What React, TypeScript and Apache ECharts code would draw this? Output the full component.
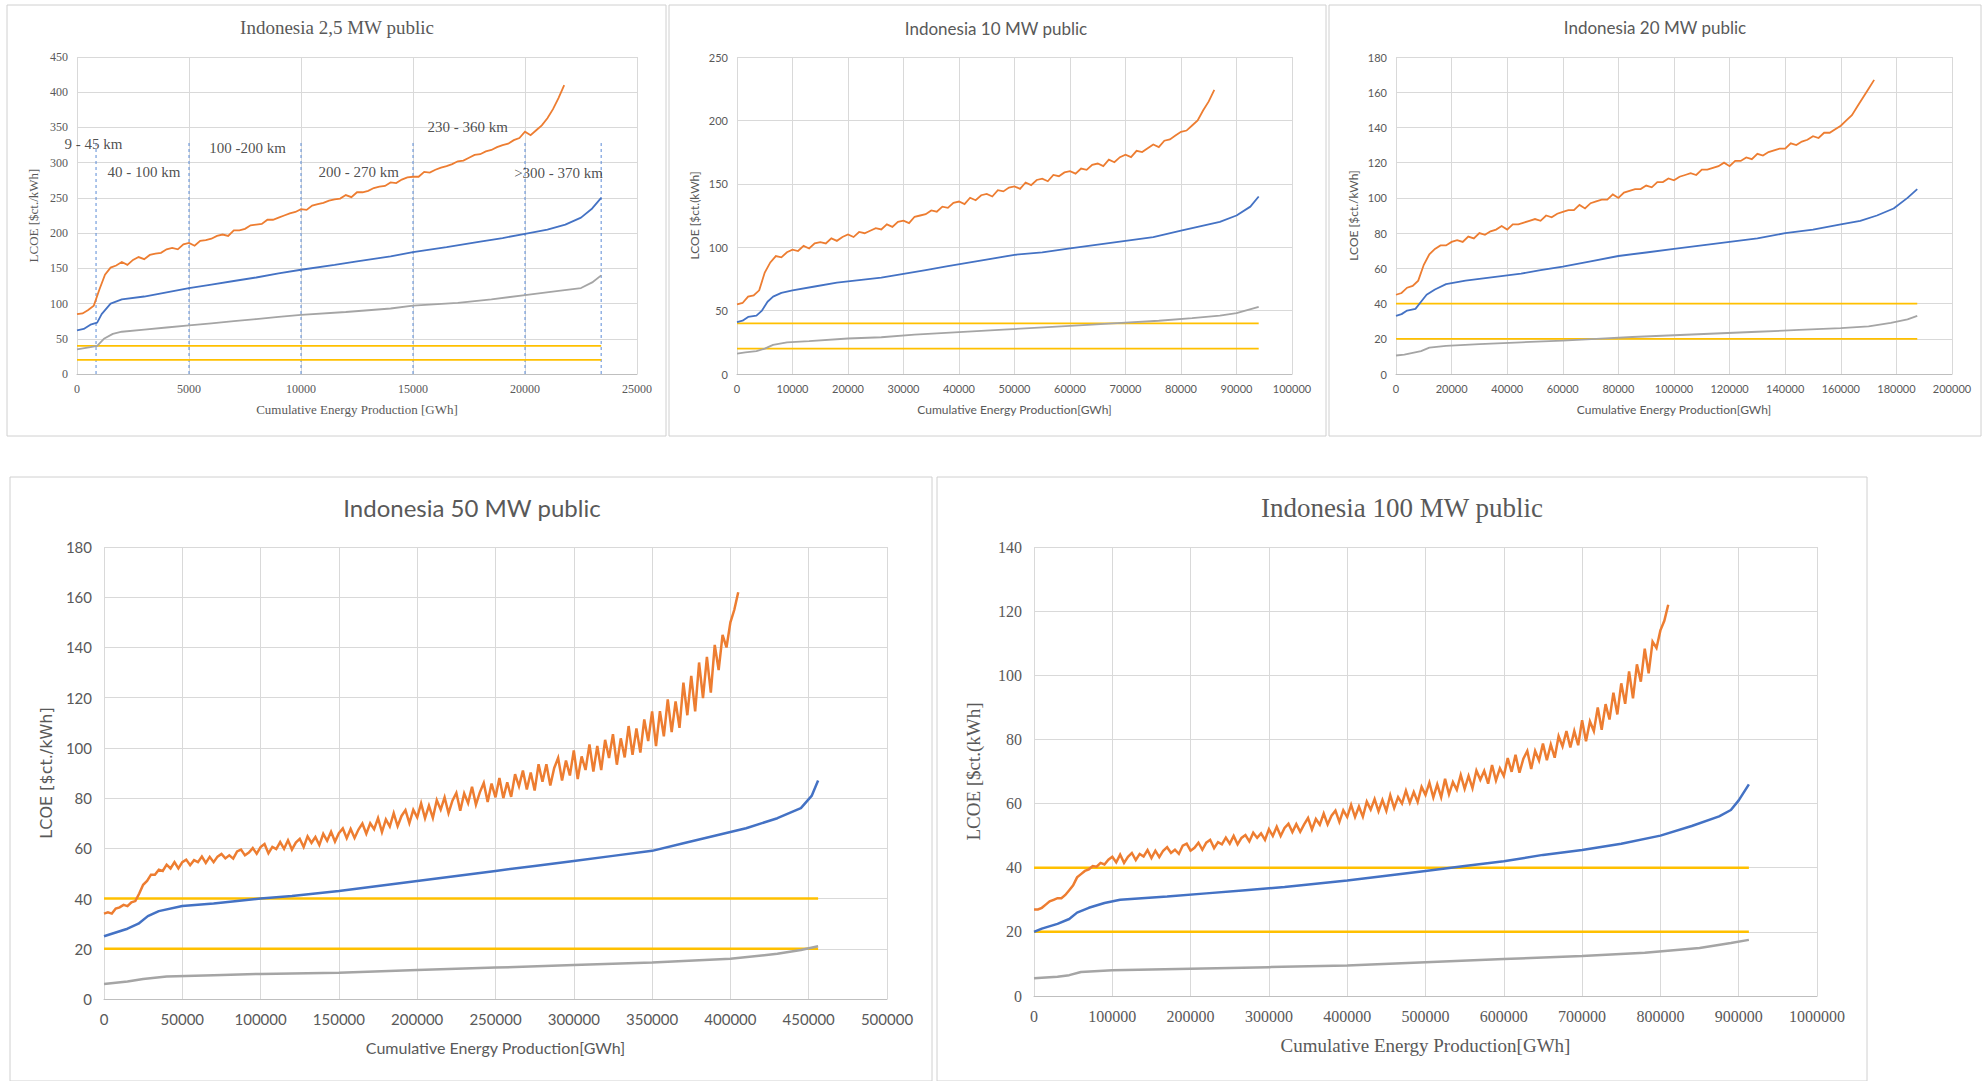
import React, { useEffect, useRef } from "react";
import * as echarts from "echarts";

const ORANGE = "#ED7D31";
const BLUE = "#4472C4";
const GRAY = "#A5A5A5";
const YELLOW = "#FFC000";
const GRID = "#D9D9D9";
const TXT = "#595959";
const SERIF = "'Liberation Serif', 'DejaVu Serif', serif";
const SANS = "Lato, 'Open Sans', sans-serif";

const thresholds = [40, 20];

// ---------- Panel 1: 2,5 MW ----------
const p1Title = "Indonesia 2,5 MW public";
const p1OrangeStep = 250;
const p1Orange = [85, 86, 91, 97, 120, 141, 151, 154, 159, 155, 162, 166, 163, 169, 171, 172, 177, 179, 177, 184, 186, 182, 189, 190, 192, 196, 198, 196, 204, 204, 206, 211, 212, 213, 219, 219, 222, 225, 228, 230, 234, 233, 239, 241, 243, 246, 248, 249, 254, 251, 258, 258, 260, 264, 266, 267, 272, 271, 276, 279, 280, 280, 287, 286, 290, 293, 295, 298, 302, 303, 307, 311, 312, 316, 318, 322, 325, 327, 332, 335, 344, 339, 346, 353, 363, 376, 392, 410];
const p1Blue = [[0, 62], [300, 64], [600, 70], [900, 73], [1100, 85], [1500, 100], [2000, 106], [3000, 110], [4000, 116], [5000, 122], [6000, 127], [7000, 132], [8000, 137], [9000, 143], [10000, 148], [11500, 155], [12500, 160], [14000, 167], [15000, 173], [16500, 180], [18000, 188], [19000, 193], [20000, 199], [21000, 205], [21800, 212], [22500, 222], [23000, 235], [23400, 250]];
const p1Gray = [[0, 35], [600, 38], [900, 40], [1200, 50], [1600, 57], [2000, 60], [3000, 63], [4000, 66], [5000, 69], [6000, 72], [7000, 75], [8000, 78], [9000, 81], [10000, 84], [12000, 88], [14000, 93], [15000, 97], [17000, 101], [18500, 106], [20000, 112], [21500, 118], [22500, 122], [23000, 130], [23400, 140]];
const p1End = 23400;
const p1DistanceX = [850, 5000, 10000, 15000, 20000, 23400];
const p1DistanceTop = 330;
const p1Labels = ["9 - 45 km", "40 - 100 km", "100 -200 km", "200 - 270 km", "230 - 360 km", ">300 - 370 km"];
const p1LabelX = [730, 2990, 7620, 12580, 17440, 21500];
const p1LabelY = [326, 287, 321, 287, 350, 285];

// ---------- Panel 2: 10 MW ----------
const p2Title = "Indonesia 10 MW public";
const p2OrangeStep = 1000;
const p2Orange = [55, 56, 61, 62, 66, 80, 88, 93, 92, 96, 98, 97, 101, 99, 103, 104, 103, 107, 105, 108, 110, 108, 112, 111, 113, 115, 114, 118, 116, 120, 121, 119, 124, 125, 126, 129, 128, 132, 131, 135, 136, 134, 139, 137, 141, 142, 140, 145, 144, 147, 148, 146, 151, 149, 153, 154, 152, 157, 156, 159, 160, 158, 162, 161, 165, 166, 164, 169, 167, 171, 173, 171, 176, 175, 178, 181, 179, 184, 185, 188, 191, 192, 196, 200, 208, 215, 224];
const p2Blue = [[0, 41], [1000, 42], [2000, 45], [3500, 46], [4500, 50], [5500, 57], [6500, 61], [8000, 64], [10000, 66], [14000, 69], [18000, 72], [22000, 74], [26000, 76], [30000, 79], [34000, 82], [38000, 85], [42000, 88], [46000, 91], [50000, 94], [55000, 96], [60000, 99], [65000, 102], [70000, 105], [75000, 108], [80000, 113], [84000, 117], [87000, 120], [90000, 125], [92500, 132], [94000, 140]];
const p2Gray = [[0, 16], [1500, 17], [3500, 18], [5000, 20], [6500, 23], [9000, 25], [13000, 26], [20000, 28], [26000, 29], [32000, 31], [40000, 33], [48000, 35], [56000, 37], [64000, 39], [70000, 40.5], [76000, 42], [82000, 44], [87000, 46], [90000, 48], [94000, 53]];
const p2End = 94000;

// ---------- Panel 3: 20 MW ----------
const p3Title = "Indonesia 20 MW public";
const p3OrangeStep = 2000;
const p3Orange = [45, 46, 49, 50, 53, 62, 68, 71, 73, 73, 75, 76, 75, 78, 77, 80, 79, 81, 82, 84, 82, 85, 85, 86, 87, 88, 87, 90, 89, 91, 92, 93, 93, 96, 94, 97, 98, 99, 99, 102, 100, 103, 104, 105, 105, 107, 106, 109, 109, 111, 110, 112, 113, 114, 113, 116, 116, 117, 118, 120, 118, 121, 121, 123, 122, 125, 124, 126, 127, 128, 128, 131, 130, 132, 133, 135, 134, 137, 137, 139, 141, 144, 147, 152, 157, 162, 167];
const p3Blue = [[0, 33], [2000, 34], [4000, 36], [7000, 37], [9000, 41], [11000, 45], [14000, 48], [18000, 51], [25000, 53], [35000, 55], [45000, 57], [52000, 59], [60000, 61], [70000, 64], [80000, 67], [90000, 69], [100000, 71], [110000, 73], [120000, 75], [130000, 77], [140000, 80], [150000, 82], [160000, 85], [167000, 87], [173000, 90], [179000, 94], [184000, 100], [187500, 105]];
const p3Gray = [[0, 10.5], [3000, 11], [6000, 12], [9000, 13], [12000, 15], [18000, 16], [30000, 17], [45000, 18], [60000, 19], [72000, 20], [85000, 21], [100000, 22], [115000, 23], [130000, 24], [145000, 25], [160000, 26], [170000, 27], [178000, 29], [184000, 31], [187500, 33]];
const p3End = 187500;

// ---------- Panel 4: 50 MW ----------
const p4Title = "Indonesia 50 MW public";
const p4OrangeStep = 2500;
const p4Orange = [
  34, 34.5, 34, 36, 36.5, 37.5, 37, 38.5, 39, 42, 45.5, 47, 49.5, 49.5, 51.5, 51,
  53.5, 52, 54.5, 52, 54.5, 55.5, 53.3, 55.3, 54.5, 56.7, 54.2, 56.6, 54.5, 56.7,
  57.8, 56, 57.2, 55.9, 58.8, 59.5, 57.2, 58.3, 60.1, 57.9, 60.5, 61.7, 58, 60.6,
  59.7, 62.5, 59.8, 63.2, 59.5, 62.3, 63.8, 60.5, 64.8, 62.2, 64.5, 61.3, 65.8, 63,
  66.6, 62.7, 66, 67.9, 64, 67.7, 64.1, 67.5, 69.9, 65.8, 70, 67.6, 72, 66.5, 71.5,
  68.7, 74, 68.8, 72.9, 75.2, 70, 75.3, 72.3, 77.9, 72, 77, 72.1, 79.2, 75.4, 80.3,
  74, 79, 82.1, 75, 81.9, 78, 84.5, 77.4, 82.3, 86, 78.5, 85.8, 80.3, 88, 80, 86.3,
  80.5, 89.5, 84.7, 91, 83.4, 90.2, 83, 93.5, 86.5, 93.5, 85, 92, 96, 87, 95, 89,
  99, 87.6, 96.6, 91.2, 101.4, 90.6, 100.8, 91.2, 103.2, 96, 105.5, 93.3, 103.8,
  96.2, 108.7, 97.2, 107.7, 98.1, 111.3, 102.7, 114.5, 100.7, 114.6, 104.6, 119.3,
  106.3, 118.5, 108, 126, 113, 128.7, 114.5, 134, 119.8, 136.2, 122, 141, 131, 145,
  140, 150, 155, 162,
];
const p4Blue = [[0, 25], [5000, 26], [15000, 28], [22000, 30], [28000, 33], [35000, 35], [50000, 37], [70000, 38], [100000, 40], [120000, 41], [150000, 43], [175000, 45], [200000, 47], [225000, 49], [250000, 51], [275000, 53], [300000, 55], [325000, 57], [350000, 59], [370000, 62], [390000, 65], [410000, 68], [430000, 72], [445000, 76], [452000, 81], [456000, 87]];
const p4Gray = [[0, 6], [15000, 7], [25000, 8], [40000, 9], [70000, 9.5], [100000, 10], [150000, 10.5], [200000, 11.5], [250000, 12.5], [300000, 13.5], [350000, 14.5], [400000, 16], [430000, 18], [445000, 19.5], [456000, 21]];
const p4End = 456000;

// ---------- Panel 5: 100 MW ----------
const p5Title = "Indonesia 100 MW public";
const p5OrangeStep = 5000;
const p5Orange = [
  27, 27, 27.5, 28.5, 29.5, 30, 30.5, 30.5, 31.5, 33, 34.5, 37, 38, 39, 39.5, 40.5,
  40.3, 41.5, 41, 42.5, 43.4, 41.7, 44.1, 41.5, 43.4, 44.6, 42.4, 44.3, 43.5, 45.5,
  43, 45.3, 43.3, 45.3, 46.4, 44.6, 45.6, 44.3, 46.9, 47.5, 45.3, 46.2, 47.8, 45.6,
  47.8, 48.7, 46.1, 48, 47.3, 49.4, 47.5, 49.9, 47.3, 49.3, 50.2, 48.2, 50.9, 49.3,
  50.7, 48.7, 52, 49.9, 52.8, 49.9, 52.4, 53.7, 51.1, 53.6, 51.2, 53.5, 55.5, 51.9,
  55.2, 53.4, 56.9, 53.5, 56.2, 57.8, 54.3, 57.9, 55.8, 59.6, 55.8, 59.1, 55.9, 60.6,
  58.1, 61.4, 57.6, 61.1, 57.7, 62.6, 58.6, 62, 60, 64, 60.3, 63.6, 60.5, 65.2, 62.7,
  66.5, 61.9, 66, 62, 67.7, 62.9, 66.7, 64.3, 68.9, 64.6, 68.6, 64.8, 70.3, 67.4,
  70.2, 66.2, 72, 67.2, 71, 68.6, 74.2, 69.9, 75.2, 69.6, 74, 76.4, 70.8, 76.4, 73.4,
  78.7, 73.5, 78.4, 74.3, 81, 77.8, 82.6, 77.5, 82.6, 78.2, 86, 79.4, 85.6, 82.6, 90,
  83, 91, 86.2, 94.6, 87.8, 97.5, 91.1, 101.2, 92.8, 103.4, 98, 108.3, 100.6, 110.5,
  108.5, 114, 117, 122,
];
const p5Blue = [[0, 20], [10000, 21], [30000, 22.5], [45000, 24], [55000, 26], [70000, 27.5], [90000, 29], [110000, 30], [170000, 31], [220000, 32], [270000, 33], [320000, 34], [360000, 35], [400000, 36], [450000, 37.5], [500000, 39], [550000, 40.5], [600000, 42], [650000, 44], [700000, 45.5], [750000, 47.5], [800000, 50], [840000, 53], [875000, 56], [890000, 58], [900000, 61], [913000, 66]];
const p5Gray = [[0, 5.5], [30000, 6], [45000, 6.5], [60000, 7.5], [100000, 8], [200000, 8.5], [300000, 9], [400000, 9.5], [500000, 10.5], [600000, 11.5], [700000, 12.5], [780000, 13.5], [850000, 15], [890000, 16.5], [913000, 17.5]];
const p5End = 913000;

type PanelCfg = {
  title: string;
  titleX: number;
  titleY: number;
  titleFont: string;
  titleSize: number;
  grid: { left: number; top: number; width: number; height: number };
  xMax: number;
  xInt: number;
  yMax: number;
  yInt: number;
  font: string;
  tickSize: number;
  xName: string;
  yName: string;
  yNameFont: string;
  nameSize: number;
  xNameGap: number;
  yNameGap: number;
  labelMargin: number;
  orange: number[];
  step: number;
  blue: number[][];
  gray: number[][];
  end: number;
  lw: number;
};

const panels: PanelCfg[] = [
  {
    title: p1Title, titleX: 332, titleY: 22, titleFont: SERIF, titleSize: 19,
    grid: { left: 77, top: 57, width: 560, height: 317 },
    xMax: 25000, xInt: 5000, yMax: 450, yInt: 50, font: SERIF, tickSize: 12,
    xName: "Cumulative Energy Production [GWh]", yName: "LCOE [$ct./kWh]", yNameFont: SERIF, nameSize: 13,
    xNameGap: 29, yNameGap: 37, labelMargin: 9,
    orange: p1Orange, step: p1OrangeStep, blue: p1Blue, gray: p1Gray, end: p1End, lw: 1.8,
  },
  {
    title: p2Title, titleX: 991, titleY: 23, titleFont: SANS, titleSize: 17,
    grid: { left: 737, top: 57, width: 555, height: 317 },
    xMax: 100000, xInt: 10000, yMax: 250, yInt: 50, font: SANS, tickSize: 11,
    xName: "Cumulative Energy Production[GWh]", yName: "LCOE [$ct.(kWh]", yNameFont: SANS, nameSize: 12,
    xNameGap: 29, yNameGap: 37, labelMargin: 9,
    orange: p2Orange, step: p2OrangeStep, blue: p2Blue, gray: p2Gray, end: p2End, lw: 1.8,
  },
  {
    title: p3Title, titleX: 1650, titleY: 22, titleFont: SANS, titleSize: 17,
    grid: { left: 1396, top: 57, width: 556, height: 317 },
    xMax: 200000, xInt: 20000, yMax: 180, yInt: 20, font: SANS, tickSize: 11,
    xName: "Cumulative Energy Production[GWh]", yName: "LCOE [$ct./kWh]", yNameFont: SANS, nameSize: 12,
    xNameGap: 29, yNameGap: 37, labelMargin: 9,
    orange: p3Orange, step: p3OrangeStep, blue: p3Blue, gray: p3Gray, end: p3End, lw: 1.8,
  },
  {
    title: p4Title, titleX: 467, titleY: 502, titleFont: SANS, titleSize: 24,
    grid: { left: 104, top: 547, width: 783, height: 452 },
    xMax: 500000, xInt: 50000, yMax: 180, yInt: 20, font: SANS, tickSize: 15,
    xName: "Cumulative Energy Production[GWh]", yName: "LCOE [$ct./kWh]", yNameFont: "'DejaVu Sans', sans-serif", nameSize: 16,
    xNameGap: 40, yNameGap: 50, labelMargin: 12,
    orange: p4Orange, step: p4OrangeStep, blue: p4Blue, gray: p4Gray, end: p4End, lw: 2.5,
  },
  {
    title: p5Title, titleX: 1397, titleY: 503, titleFont: SERIF, titleSize: 27,
    grid: { left: 1034, top: 547, width: 783, height: 449 },
    xMax: 1000000, xInt: 100000, yMax: 140, yInt: 20, font: SERIF, tickSize: 16,
    xName: "Cumulative Energy Production[GWh]", yName: "LCOE [$ct.(kWh]", yNameFont: SERIF, nameSize: 19,
    xNameGap: 40, yNameGap: 51, labelMargin: 12,
    orange: p5Orange, step: p5OrangeStep, blue: p5Blue, gray: p5Gray, end: p5End, lw: 2.5,
  },
];

const borders = [
  { x: 7, y: 5, width: 659, height: 431 },
  { x: 669, y: 5, width: 657, height: 431 },
  { x: 1329, y: 5, width: 652, height: 431 },
  { x: 10, y: 477, width: 922, height: 604 },
  { x: 937, y: 477, width: 930, height: 604 },
];

function buildOption() {
  const grids: any[] = [];
  const xAxes: any[] = [];
  const yAxes: any[] = [];
  const series: any[] = [];
  const titles: any[] = [];

  panels.forEach((p, i) => {
    grids.push({ ...p.grid });
    titles.push({
      text: p.title,
      left: p.titleX,
      top: p.titleY,
      textAlign: "center",
      textVerticalAlign: "middle",
      textStyle: { fontFamily: p.titleFont, fontSize: p.titleSize, fontWeight: "normal", color: TXT },
    });
    xAxes.push({
      type: "value", gridIndex: i, min: 0, max: p.xMax, interval: p.xInt,
      axisLine: { show: true, lineStyle: { color: "#BFBFBF", width: 1 } },
      axisTick: { show: false },
      splitLine: { show: true, lineStyle: { color: GRID, width: 1 } },
      axisLabel: {
        color: TXT, fontFamily: p.font, fontSize: p.tickSize, margin: p.labelMargin,
        formatter: (v: number) => String(v),
      },
      name: p.xName, nameLocation: "middle", nameGap: p.xNameGap,
      nameTextStyle: { color: TXT, fontFamily: p.font, fontSize: p.nameSize },
    });
    yAxes.push({
      type: "value", gridIndex: i, min: 0, max: p.yMax, interval: p.yInt,
      axisLine: { show: false },
      axisTick: { show: false },
      splitLine: { show: true, lineStyle: { color: GRID, width: 1 } },
      axisLabel: {
        color: TXT, fontFamily: p.font, fontSize: p.tickSize, margin: p.labelMargin,
        formatter: (v: number) => String(v),
      },
      name: p.yName, nameLocation: "middle", nameGap: p.yNameGap, nameRotate: 90,
      nameTextStyle: { color: TXT, fontFamily: p.yNameFont, fontSize: p.nameSize },
    });
    const base = { type: "line", xAxisIndex: i, yAxisIndex: i, showSymbol: false, symbol: "none", silent: true };
    thresholds.forEach((t) => {
      series.push({ ...base, data: [[0, t], [p.end, t]], lineStyle: { color: YELLOW, width: p.lw }, z: 3 });
    });
    series.push({ ...base, data: p.gray, lineStyle: { color: GRAY, width: p.lw }, z: 4 });
    series.push({ ...base, data: p.blue, lineStyle: { color: BLUE, width: p.lw }, z: 5 });
    series.push({
      ...base,
      data: p.orange.map((v, k) => [k * p.step, v]),
      lineStyle: { color: ORANGE, width: p.lw, join: "miter" },
      z: 6,
    });
  });

  // Panel 1 distance markers
  p1DistanceX.forEach((x) => {
    series.push({
      type: "line", xAxisIndex: 0, yAxisIndex: 0, showSymbol: false, symbol: "none", silent: true,
      data: [[x, 0], [x, p1DistanceTop]],
      lineStyle: { color: "#5B8BD6", width: 1, type: [3, 3] }, z: 2,
    });
  });
  series.push({
    type: "scatter", xAxisIndex: 0, yAxisIndex: 0, symbolSize: 0, silent: true, z: 10,
    data: p1Labels.map((n, k) => ({ name: n, value: [p1LabelX[k], p1LabelY[k]] })),
    label: {
      show: true, position: "inside", formatter: (d: any) => d.name,
      color: "#222", fontFamily: SERIF, fontSize: 15,
    },
  });

  return {
    animation: false,
    backgroundColor: "#ffffff",
    title: titles,
    grid: grids,
    xAxis: xAxes,
    yAxis: yAxes,
    series,
    graphic: borders.map((b) => ({
      type: "rect", shape: b, silent: true, z: -1,
      style: { fill: "none", stroke: "#D0D0D0", lineWidth: 1 },
    })),
  };
}

export default function App() {
  const ref = useRef<HTMLDivElement>(null);
  useEffect(() => {
    if (!ref.current) return;
    const chart = echarts.init(ref.current, undefined, { renderer: "svg" });
    chart.setOption(buildOption() as any);
    return () => chart.dispose();
  }, []);
  return (
    <div
      ref={ref}
      style={{ position: "fixed", left: 0, top: 0, width: 1982, height: 1081, background: "#fff" }}
    />
  );
}
